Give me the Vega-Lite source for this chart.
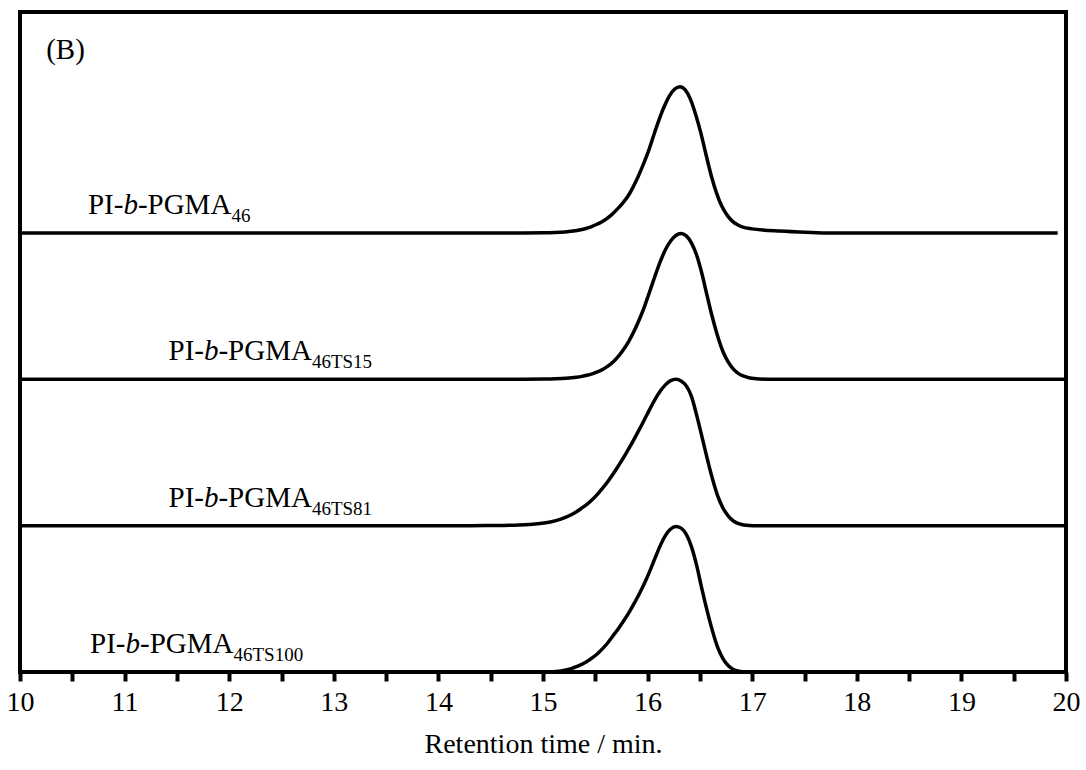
{
  "$schema": "https://vega.github.io/schema/vega-lite/v6.json",
  "width": 1046,
  "height": 660,
  "autosize": {"type": "none"},
  "padding": {"left": 20, "top": 12, "right": 20, "bottom": 98},
  "background": "white",
  "config": {
    "font": "Liberation Serif",
    "view": {"stroke": "black", "strokeWidth": 4}
  },
  "datasets": {
    "traces": [
      {"trace": "46", "t": 10.0, "s": 3.0},
      {"trace": "46", "t": 14.6, "s": 3.0},
      {"trace": "46", "t": 14.81, "s": 3.0003},
      {"trace": "46", "t": 15.01, "s": 3.0014},
      {"trace": "46", "t": 15.11, "s": 3.0033},
      {"trace": "46", "t": 15.21, "s": 3.0072},
      {"trace": "46", "t": 15.31, "s": 3.015},
      {"trace": "46", "t": 15.36, "s": 3.0216},
      {"trace": "46", "t": 15.41, "s": 3.0307},
      {"trace": "46", "t": 15.46, "s": 3.0423},
      {"trace": "46", "t": 15.51, "s": 3.0578},
      {"trace": "46", "t": 15.56, "s": 3.0756},
      {"trace": "46", "t": 15.61, "s": 3.098},
      {"trace": "46", "t": 15.66, "s": 3.127},
      {"trace": "46", "t": 15.71, "s": 3.163},
      {"trace": "46", "t": 15.76, "s": 3.203},
      {"trace": "46", "t": 15.81, "s": 3.249},
      {"trace": "46", "t": 15.86, "s": 3.312},
      {"trace": "46", "t": 15.91, "s": 3.386},
      {"trace": "46", "t": 15.96, "s": 3.470},
      {"trace": "46", "t": 16.01, "s": 3.563},
      {"trace": "46", "t": 16.06, "s": 3.671},
      {"trace": "46", "t": 16.11, "s": 3.775},
      {"trace": "46", "t": 16.16, "s": 3.866},
      {"trace": "46", "t": 16.21, "s": 3.938},
      {"trace": "46", "t": 16.26, "s": 3.984},
      {"trace": "46", "t": 16.31, "s": 4.0},
      {"trace": "46", "t": 16.36, "s": 3.978},
      {"trace": "46", "t": 16.41, "s": 3.913},
      {"trace": "46", "t": 16.46, "s": 3.808},
      {"trace": "46", "t": 16.51, "s": 3.681},
      {"trace": "46", "t": 16.56, "s": 3.531},
      {"trace": "46", "t": 16.61, "s": 3.388},
      {"trace": "46", "t": 16.66, "s": 3.271},
      {"trace": "46", "t": 16.71, "s": 3.182},
      {"trace": "46", "t": 16.76, "s": 3.122},
      {"trace": "46", "t": 16.81, "s": 3.081},
      {"trace": "46", "t": 16.86, "s": 3.056},
      {"trace": "46", "t": 16.91, "s": 3.040},
      {"trace": "46", "t": 17.0, "s": 3.028},
      {"trace": "46", "t": 17.1, "s": 3.020},
      {"trace": "46", "t": 17.26, "s": 3.013},
      {"trace": "46", "t": 17.45, "s": 3.006},
      {"trace": "46", "t": 17.62, "s": 3.002},
      {"trace": "46", "t": 17.8, "s": 3.0},
      {"trace": "46", "t": 19.92, "s": 3.0},

      {"trace": "46TS15", "t": 10.0, "s": 2.0},
      {"trace": "46TS15", "t": 14.6, "s": 2.0},
      {"trace": "46TS15", "t": 14.82, "s": 2.0003},
      {"trace": "46TS15", "t": 15.02, "s": 2.0014},
      {"trace": "46TS15", "t": 15.12, "s": 2.0033},
      {"trace": "46TS15", "t": 15.22, "s": 2.0072},
      {"trace": "46TS15", "t": 15.32, "s": 2.0146},
      {"trace": "46TS15", "t": 15.37, "s": 2.0202},
      {"trace": "46TS15", "t": 15.42, "s": 2.0277},
      {"trace": "46TS15", "t": 15.47, "s": 2.0377},
      {"trace": "46TS15", "t": 15.52, "s": 2.051},
      {"trace": "46TS15", "t": 15.57, "s": 2.0675},
      {"trace": "46TS15", "t": 15.62, "s": 2.090},
      {"trace": "46TS15", "t": 15.67, "s": 2.119},
      {"trace": "46TS15", "t": 15.72, "s": 2.157},
      {"trace": "46TS15", "t": 15.77, "s": 2.204},
      {"trace": "46TS15", "t": 15.82, "s": 2.260},
      {"trace": "46TS15", "t": 15.87, "s": 2.328},
      {"trace": "46TS15", "t": 15.92, "s": 2.407},
      {"trace": "46TS15", "t": 15.97, "s": 2.497},
      {"trace": "46TS15", "t": 16.02, "s": 2.600},
      {"trace": "46TS15", "t": 16.07, "s": 2.704},
      {"trace": "46TS15", "t": 16.12, "s": 2.803},
      {"trace": "46TS15", "t": 16.17, "s": 2.885},
      {"trace": "46TS15", "t": 16.22, "s": 2.945},
      {"trace": "46TS15", "t": 16.27, "s": 2.983},
      {"trace": "46TS15", "t": 16.32, "s": 2.996},
      {"trace": "46TS15", "t": 16.37, "s": 2.980},
      {"trace": "46TS15", "t": 16.42, "s": 2.931},
      {"trace": "46TS15", "t": 16.47, "s": 2.846},
      {"trace": "46TS15", "t": 16.52, "s": 2.720},
      {"trace": "46TS15", "t": 16.57, "s": 2.568},
      {"trace": "46TS15", "t": 16.62, "s": 2.422},
      {"trace": "46TS15", "t": 16.67, "s": 2.294},
      {"trace": "46TS15", "t": 16.72, "s": 2.190},
      {"trace": "46TS15", "t": 16.77, "s": 2.119},
      {"trace": "46TS15", "t": 16.82, "s": 2.070},
      {"trace": "46TS15", "t": 16.87, "s": 2.039},
      {"trace": "46TS15", "t": 16.92, "s": 2.021},
      {"trace": "46TS15", "t": 16.97, "s": 2.0108},
      {"trace": "46TS15", "t": 17.02, "s": 2.0052},
      {"trace": "46TS15", "t": 17.07, "s": 2.0024},
      {"trace": "46TS15", "t": 17.15, "s": 2.0007},
      {"trace": "46TS15", "t": 17.25, "s": 2.0},
      {"trace": "46TS15", "t": 20.0, "s": 2.0},

      {"trace": "46TS81", "t": 10.0, "s": 1.0},
      {"trace": "46TS81", "t": 14.30, "s": 1.0},
      {"trace": "46TS81", "t": 14.45, "s": 1.0005},
      {"trace": "46TS81", "t": 14.62, "s": 1.0018},
      {"trace": "46TS81", "t": 14.77, "s": 1.0046},
      {"trace": "46TS81", "t": 14.87, "s": 1.0083},
      {"trace": "46TS81", "t": 14.97, "s": 1.0148},
      {"trace": "46TS81", "t": 15.07, "s": 1.0255},
      {"trace": "46TS81", "t": 15.17, "s": 1.0446},
      {"trace": "46TS81", "t": 15.27, "s": 1.0747},
      {"trace": "46TS81", "t": 15.32, "s": 1.095},
      {"trace": "46TS81", "t": 15.37, "s": 1.120},
      {"trace": "46TS81", "t": 15.42, "s": 1.146},
      {"trace": "46TS81", "t": 15.47, "s": 1.177},
      {"trace": "46TS81", "t": 15.52, "s": 1.214},
      {"trace": "46TS81", "t": 15.57, "s": 1.256},
      {"trace": "46TS81", "t": 15.62, "s": 1.302},
      {"trace": "46TS81", "t": 15.67, "s": 1.353},
      {"trace": "46TS81", "t": 15.72, "s": 1.408},
      {"trace": "46TS81", "t": 15.77, "s": 1.465},
      {"trace": "46TS81", "t": 15.82, "s": 1.526},
      {"trace": "46TS81", "t": 15.87, "s": 1.590},
      {"trace": "46TS81", "t": 15.92, "s": 1.656},
      {"trace": "46TS81", "t": 15.97, "s": 1.725},
      {"trace": "46TS81", "t": 16.02, "s": 1.795},
      {"trace": "46TS81", "t": 16.07, "s": 1.862},
      {"trace": "46TS81", "t": 16.12, "s": 1.918},
      {"trace": "46TS81", "t": 16.17, "s": 1.962},
      {"trace": "46TS81", "t": 16.22, "s": 1.991},
      {"trace": "46TS81", "t": 16.27, "s": 2.0},
      {"trace": "46TS81", "t": 16.32, "s": 1.989},
      {"trace": "46TS81", "t": 16.37, "s": 1.955},
      {"trace": "46TS81", "t": 16.42, "s": 1.882},
      {"trace": "46TS81", "t": 16.47, "s": 1.752},
      {"trace": "46TS81", "t": 16.52, "s": 1.607},
      {"trace": "46TS81", "t": 16.57, "s": 1.458},
      {"trace": "46TS81", "t": 16.62, "s": 1.320},
      {"trace": "46TS81", "t": 16.67, "s": 1.203},
      {"trace": "46TS81", "t": 16.72, "s": 1.121},
      {"trace": "46TS81", "t": 16.77, "s": 1.067},
      {"trace": "46TS81", "t": 16.82, "s": 1.032},
      {"trace": "46TS81", "t": 16.87, "s": 1.0138},
      {"trace": "46TS81", "t": 16.92, "s": 1.0051},
      {"trace": "46TS81", "t": 16.97, "s": 1.0015},
      {"trace": "46TS81", "t": 17.05, "s": 1.0},
      {"trace": "46TS81", "t": 20.0, "s": 1.0},

      {"trace": "46TS100", "t": 10.0, "s": 0.0},
      {"trace": "46TS100", "t": 14.9, "s": 0.0},
      {"trace": "46TS100", "t": 15.0, "s": 0.0005},
      {"trace": "46TS100", "t": 15.07, "s": 0.002},
      {"trace": "46TS100", "t": 15.12, "s": 0.0039},
      {"trace": "46TS100", "t": 15.17, "s": 0.0072},
      {"trace": "46TS100", "t": 15.22, "s": 0.0135},
      {"trace": "46TS100", "t": 15.27, "s": 0.0235},
      {"trace": "46TS100", "t": 15.32, "s": 0.036},
      {"trace": "46TS100", "t": 15.37, "s": 0.052},
      {"trace": "46TS100", "t": 15.42, "s": 0.071},
      {"trace": "46TS100", "t": 15.47, "s": 0.096},
      {"trace": "46TS100", "t": 15.52, "s": 0.125},
      {"trace": "46TS100", "t": 15.57, "s": 0.160},
      {"trace": "46TS100", "t": 15.62, "s": 0.200},
      {"trace": "46TS100", "t": 15.67, "s": 0.248},
      {"trace": "46TS100", "t": 15.72, "s": 0.296},
      {"trace": "46TS100", "t": 15.77, "s": 0.348},
      {"trace": "46TS100", "t": 15.82, "s": 0.404},
      {"trace": "46TS100", "t": 15.87, "s": 0.467},
      {"trace": "46TS100", "t": 15.92, "s": 0.533},
      {"trace": "46TS100", "t": 15.97, "s": 0.606},
      {"trace": "46TS100", "t": 16.02, "s": 0.688},
      {"trace": "46TS100", "t": 16.07, "s": 0.776},
      {"trace": "46TS100", "t": 16.12, "s": 0.862},
      {"trace": "46TS100", "t": 16.17, "s": 0.932},
      {"trace": "46TS100", "t": 16.22, "s": 0.977},
      {"trace": "46TS100", "t": 16.27, "s": 0.995},
      {"trace": "46TS100", "t": 16.32, "s": 0.983},
      {"trace": "46TS100", "t": 16.37, "s": 0.940},
      {"trace": "46TS100", "t": 16.42, "s": 0.855},
      {"trace": "46TS100", "t": 16.47, "s": 0.725},
      {"trace": "46TS100", "t": 16.52, "s": 0.565},
      {"trace": "46TS100", "t": 16.57, "s": 0.416},
      {"trace": "46TS100", "t": 16.62, "s": 0.281},
      {"trace": "46TS100", "t": 16.67, "s": 0.168},
      {"trace": "46TS100", "t": 16.72, "s": 0.092},
      {"trace": "46TS100", "t": 16.77, "s": 0.044},
      {"trace": "46TS100", "t": 16.82, "s": 0.017},
      {"trace": "46TS100", "t": 16.87, "s": 0.006},
      {"trace": "46TS100", "t": 16.92, "s": 0.0015},
      {"trace": "46TS100", "t": 16.97, "s": 0.0},
      {"trace": "46TS100", "t": 20.0, "s": 0.0}
    ],
    "labels": [
      {"sub": "46", "lx": 10.65, "ly": 3.13},
      {"sub": "46TS15", "lx": 11.42, "ly": 2.13},
      {"sub": "46TS81", "lx": 11.42, "ly": 1.13},
      {"sub": "46TS100", "lx": 10.67, "ly": 0.13}
    ],
    "panel": [
      {"tag": "(B)", "px": 10.25, "py": 4.19}
    ]
  },
  "layer": [
    {
      "data": {"name": "traces"},
      "mark": {"type": "line", "interpolate": "monotone", "color": "black", "strokeWidth": 3.5},
      "encoding": {
        "x": {
          "field": "t",
          "type": "quantitative",
          "scale": {"domain": [10, 20], "nice": false, "zero": false},
          "axis": {
            "title": "Retention time / min.",
            "values": [10, 10.5, 11, 11.5, 12, 12.5, 13, 13.5, 14, 14.5, 15, 15.5, 16, 16.5, 17, 17.5, 18, 18.5, 19, 19.5, 20],
            "labelExpr": "datum.value % 1 === 0 ? '' + datum.value : ''",
            "grid": false,
            "domain": false,
            "tickColor": "black",
            "tickWidth": 4,
            "tickSize": 9,
            "labelFont": "Liberation Serif",
            "labelFontSize": 28,
            "labelColor": "black",
            "labelPadding": 7,
            "labelFlush": false,
            "labelOverlap": false,
            "titleFont": "Liberation Serif",
            "titleFontSize": 28,
            "titleFontWeight": "normal",
            "titleColor": "black",
            "titlePadding": 14
          }
        },
        "y": {
          "field": "s",
          "type": "quantitative",
          "scale": {"domain": [0, 4.51], "nice": false, "zero": false},
          "axis": null
        },
        "detail": {"field": "trace"}
      }
    },
    {
      "data": {"name": "labels"},
      "mark": {"type": "text", "text": "PI-", "align": "left", "baseline": "alphabetic", "font": "Liberation Serif", "fontSize": 29, "color": "black"},
      "encoding": {
        "x": {"field": "lx", "type": "quantitative"},
        "y": {"field": "ly", "type": "quantitative"}
      }
    },
    {
      "data": {"name": "labels"},
      "mark": {"type": "text", "text": "b", "align": "left", "baseline": "alphabetic", "font": "Liberation Serif", "fontStyle": "italic", "fontSize": 29, "color": "black", "dx": 35.4},
      "encoding": {
        "x": {"field": "lx", "type": "quantitative"},
        "y": {"field": "ly", "type": "quantitative"}
      }
    },
    {
      "data": {"name": "labels"},
      "mark": {"type": "text", "text": "-PGMA", "align": "left", "baseline": "alphabetic", "font": "Liberation Serif", "fontSize": 29, "color": "black", "dx": 49.9},
      "encoding": {
        "x": {"field": "lx", "type": "quantitative"},
        "y": {"field": "ly", "type": "quantitative"}
      }
    },
    {
      "data": {"name": "labels"},
      "mark": {"type": "text", "align": "left", "baseline": "alphabetic", "font": "Liberation Serif", "fontSize": 19, "color": "black", "dx": 143.4, "dy": 8},
      "encoding": {
        "x": {"field": "lx", "type": "quantitative"},
        "y": {"field": "ly", "type": "quantitative"},
        "text": {"field": "sub"}
      }
    },
    {
      "data": {"name": "panel"},
      "mark": {"type": "text", "align": "left", "baseline": "alphabetic", "font": "Liberation Serif", "fontSize": 29, "color": "black"},
      "encoding": {
        "x": {"field": "px", "type": "quantitative"},
        "y": {"field": "py", "type": "quantitative"},
        "text": {"field": "tag"}
      }
    }
  ]
}
